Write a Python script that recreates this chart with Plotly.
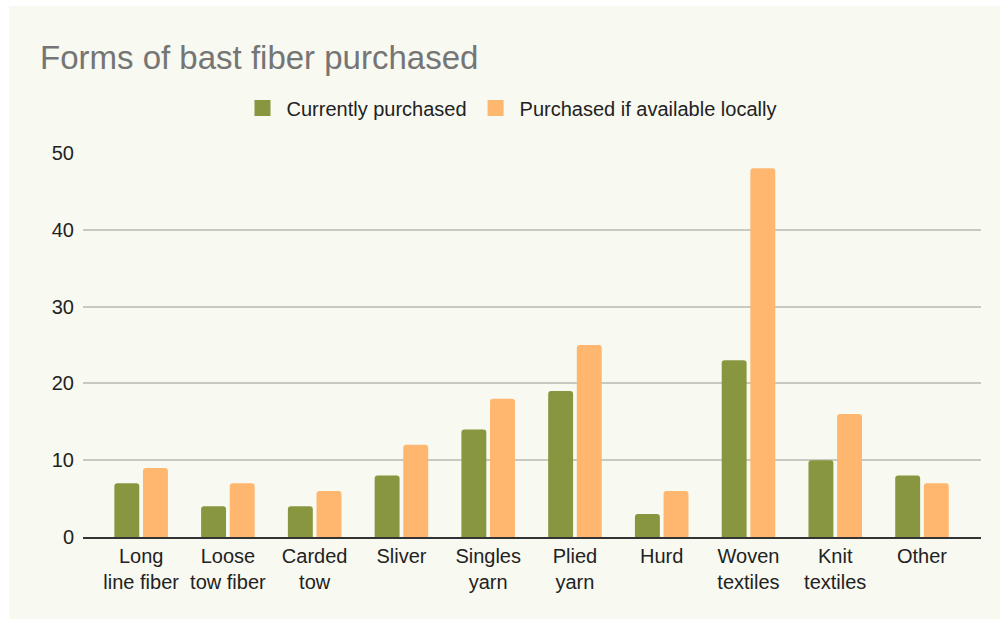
import plotly.graph_objects as go

categories = ["Long<br>line fiber", "Loose<br>tow fiber", "Carded<br>tow", "Sliver", "Singles<br>yarn",
              "Plied<br>yarn", "Hurd", "Woven<br>textiles", "Knit<br>textiles", "Other"]
currently = [7, 4, 4, 8, 14, 19, 3, 23, 10, 8]
if_local = [9, 7, 6, 12, 18, 25, 6, 48, 16, 7]
y_ticks = [0, 10, 20, 30, 40, 50]
series_names = ["Currently purchased", "Purchased if available locally"]

GREEN = "#87963f"
ORANGE = "#ffb66f"
CREAM = "#f8f9f1"
FONT = "Liberation Sans, Arial, sans-serif"

fig = go.Figure()
for name, vals, col in [(series_names[0], currently, GREEN), (series_names[1], if_local, ORANGE)]:
    fig.add_trace(go.Bar(x=categories, y=vals, name=name, marker_color=col,
                         marker_line_width=0, showlegend=False, legendgroup=name))
# legend entries with larger square swatches
for name, col in [(series_names[0], GREEN), (series_names[1], ORANGE)]:
    fig.add_trace(go.Scatter(x=[None], y=[None], mode="markers", name=name, legendgroup=name,
                             marker=dict(symbol="square", size=18, color=col)))

L, R, T, B = 83, 19, 153, 82
W, H = 1000, 619
pw, ph = W - L - R, H - T - B

fig.add_shape(type="rect", xref="paper", yref="paper", layer="below",
              x0=(9 - L) / pw, x1=(W - L) / pw, y0=-(B + 2) / ph, y1=(H - 6 - B) / ph,
              fillcolor=CREAM, line_width=0)

fig.update_layout(
    width=W, height=H,
    margin=dict(l=L, r=R, t=T, b=B),
    paper_bgcolor="white", plot_bgcolor="rgba(0,0,0,0)",
    barmode="group", bargap=0.34, bargroupgap=0.13, barcornerradius=3,
    font=dict(family=FONT, size=20, color="#222222"),
    title=dict(text="Forms of bast fiber purchased", x=0.04, xref="container", xanchor="left",
               y=1 - 57 / H, yref="container", yanchor="middle",
               font=dict(family=FONT, size=33, color="#757575")),
    legend=dict(orientation="h", x=0.51, xref="container", xanchor="center",
                y=1 - 108 / H, yref="container", yanchor="middle",
                font=dict(family=FONT, size=20, color="#222222"), bgcolor="rgba(0,0,0,0)",
                traceorder="normal", itemsizing="trace", itemwidth=38),
    xaxis=dict(range=[-0.67, 9.68], showline=True, linecolor="#333333", linewidth=1.5,
               showgrid=False, ticks="", tickfont=dict(size=20, color="#222222")),
    yaxis=dict(range=[0, 50], tickvals=y_ticks, showgrid=True, gridcolor="#c9c9c0", gridwidth=1.5,
               zeroline=False, showline=False, ticks="", ticklabelstandoff=8,
               tickfont=dict(size=20, color="#222222")),
)

fig.write_html("out.html", post_script="document.body.style.margin='0';",
               config={"displayModeBar": False})
